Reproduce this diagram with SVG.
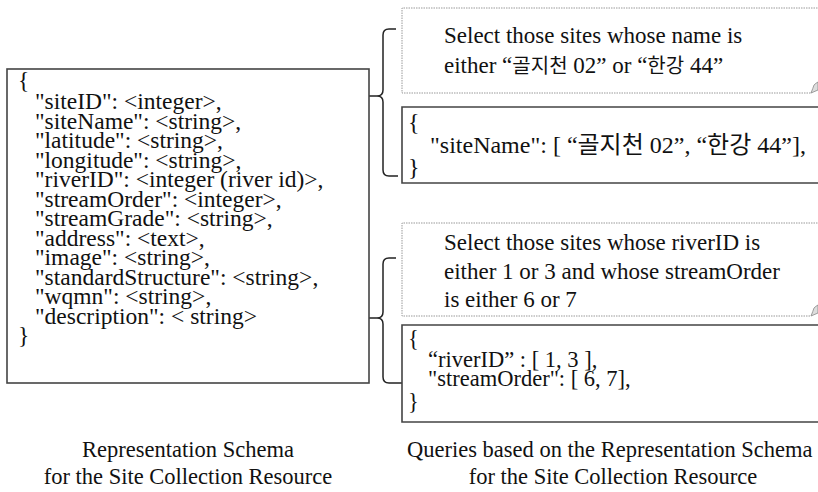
<svg xmlns="http://www.w3.org/2000/svg" width="818" height="492" viewBox="0 0 818 492">
<style>
.t{font-family:"Liberation Serif","Noto Sans CJK KR",serif;fill:#111;}
.sl{font-size:23.5px;}
.sd{font-size:23px;}
.k{font-size:20px;}
.s24{font-size:24px;}
.s225{font-size:22.5px;}
.cap{font-size:22.5px;}
.box{fill:#fff;stroke:#444;stroke-width:1.6;}
.dot{fill:none;stroke:#999;stroke-width:1;stroke-dasharray:1.5 1;}
.con{fill:none;stroke:#222;stroke-width:1.5;}
.curl{fill:#ddd;stroke:#888;stroke-width:0.8;}
</style>
<rect width="818" height="492" fill="#fff"/>
<g id="connectors">
<path class="con" d="M396,29 H389 Q383,29 383,35 V90 Q383,96 377,96 H363 M377,96 Q383,96 383,102 V170 Q383,176 389,176 H398"/>
<path class="con" d="M396,258 H389 Q383,258 383,264 V312 Q383,318 377,318 H366 M377,318 Q383,318 383,324 V377 Q383,383 389,383 H402"/>
</g>
<g id="schema">
<rect class="box" x="7" y="69" width="362" height="314"/>
<g class="t sl">
<text x="18" y="88">{</text>
<text x="35" y="109">"siteID": &lt;integer&gt;,</text>
<text x="35" y="128.5">"siteName":  &lt;string&gt;,</text>
<text x="35" y="148">"latitude": &lt;string&gt;,</text>
<text x="35" y="167.5">"longitude": &lt;string&gt;,</text>
<text x="35" y="187">"riverID": &lt;integer (river id)&gt;,</text>
<text x="35" y="206.5">"streamOrder": &lt;integer&gt;,</text>
<text x="35" y="226">"streamGrade": &lt;string&gt;,</text>
<text x="35" y="245.5">"address": &lt;text&gt;,</text>
<text x="35" y="265">"image": &lt;string&gt;,</text>
<text x="35" y="284.5">"standardStructure": &lt;string&gt;,</text>
<text x="35" y="304">"wqmn": &lt;string&gt;,</text>
<text x="35" y="323.5">"description": &lt; string&gt;</text>
<text x="18" y="343">}</text>
</g>
</g>
<g id="query1-text">
<path class="dot" d="M820,8 H402 V93 H811"/>
<path class="curl" d="M811,93 Q813,88 814,85 Q816,83 818,82 V90 Z"/>
<text class="t sd" x="444" y="43">Select those sites whose name is</text>
<text class="t sd" x="444" y="73">either “<tspan class="k">골지천</tspan> 02” or “<tspan class="k">한강</tspan> 44”</text>
</g>
<g id="query1-code">
<path class="box" d="M820,107 H402 V183 H820"/>
<g class="t s24">
<text x="408" y="130">{</text>
<text x="430" y="153">"siteName":  [ “골지천 02”, “한강 44”],</text>
<text x="408" y="175">}</text>
</g>
</g>
<g id="query2-text">
<path class="dot" d="M820,223 H402 V316 H811"/>
<path class="curl" d="M811,316 Q813,311 814,308 Q816,306 818,305 V313 Z"/>
<text class="t sd" x="444" y="250">Select those sites whose riverID is</text>
<text class="t sd" x="444" y="279">either 1 or 3 and whose streamOrder</text>
<text class="t sd" x="444" y="307">is either 6 or 7</text>
</g>
<g id="query2-code">
<path class="box" d="M820,325 H402 V422 H820"/>
<g class="t s225">
<text x="408" y="346">{</text>
<text x="428" y="367">“riverID” : [ 1, 3 ],</text>
<text x="428" y="386">"streamOrder": [ 6, 7],</text>
<text x="408" y="409">}</text>
</g>
</g>
<g id="captions" class="t cap">
<text x="188" y="457" text-anchor="middle">Representation Schema</text>
<text x="188" y="484" text-anchor="middle">for the Site Collection Resource</text>
<text x="407" y="457">Queries based on the Representation Schema</text>
<text x="613" y="484" text-anchor="middle">for the Site Collection Resource</text>
</g>
</svg>
